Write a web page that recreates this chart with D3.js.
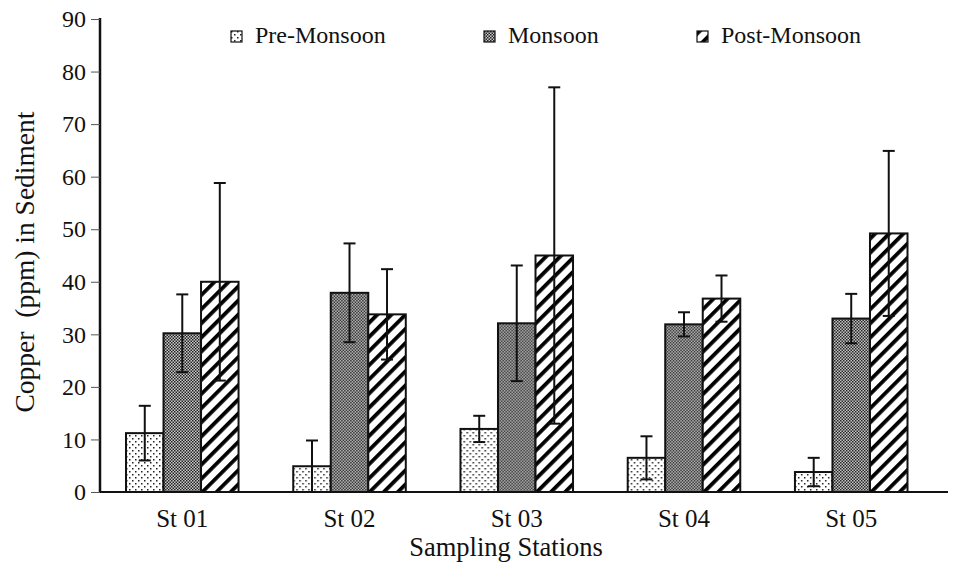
<!DOCTYPE html>
<html>
<head>
<meta charset="utf-8">
<script src="https://cdn.jsdelivr.net/npm/d3@7"></script>
<style>
  html, body { margin: 0; padding: 0; background: #fff; }
  svg { display: block; }
  svg text { font-family: "Liberation Serif", "Times New Roman", "DejaVu Serif", serif; fill: #111; }
</style>
</head>
<body>
<svg id="chart" width="973" height="564"></svg>
<script>
// Copper concentration in sediment by station and season
const stations = ["St 01", "St 02", "St 03", "St 04", "St 05"];
const seasons = ["Pre-Monsoon", "Monsoon", "Post-Monsoon"];
const preMonsoon = [11.2, 4.9, 12.0, 6.5, 3.8];
const monsoon = [30.2, 37.9, 32.1, 31.9, 33.0];
const postMonsoon = [40.0, 33.8, 45.0, 36.8, 49.2];
const preMonsoonErr = [5.2, 4.9, 2.5, 4.1, 2.7];
const monsoonErr = [7.4, 9.4, 11.0, 2.3, 4.7];
const postMonsoonErr = [18.8, 8.6, 32.0, 4.4, 15.7];
const yTicks = [0, 10, 20, 30, 40, 50, 60, 70, 80, 90];

const seriesValues = [preMonsoon, monsoon, postMonsoon];
const seriesErrors = [preMonsoonErr, monsoonErr, postMonsoonErr];
const patternIds = ["pat-dots", "pat-check", "pat-stripe"];
const serif = "Liberation Serif, Times New Roman, serif";

const svg = d3.select("#chart");

// Fill patterns
const defs = svg.append("defs");
const dots = defs.append("pattern").attr("id", "pat-dots")
  .attr("patternUnits", "userSpaceOnUse").attr("width", 6).attr("height", 6);
dots.append("rect").attr("width", 6).attr("height", 6).attr("fill", "#fff");
dots.append("rect").attr("x", 0).attr("y", 0).attr("width", 1.5).attr("height", 1.5).attr("fill", "#222");
dots.append("rect").attr("x", 3).attr("y", 3).attr("width", 1.5).attr("height", 1.5).attr("fill", "#222");

const check = defs.append("pattern").attr("id", "pat-check")
  .attr("patternUnits", "userSpaceOnUse").attr("width", 3).attr("height", 3);
check.append("rect").attr("width", 3).attr("height", 3).attr("fill", "#c8c8c8");
check.append("rect").attr("x", 0).attr("y", 0).attr("width", 1.5).attr("height", 1.5).attr("fill", "#222");
check.append("rect").attr("x", 1.5).attr("y", 1.5).attr("width", 1.5).attr("height", 1.5).attr("fill", "#222");

const stripe = defs.append("pattern").attr("id", "pat-stripe")
  .attr("patternUnits", "userSpaceOnUse").attr("width", 10).attr("height", 10)
  .attr("patternTransform", "rotate(45)");
stripe.append("rect").attr("width", 10).attr("height", 10).attr("fill", "#fff");
stripe.append("rect").attr("x", 0).attr("y", 0).attr("width", 3.8).attr("height", 10).attr("fill", "#000");

// Scales
const y = d3.scaleLinear().domain([0, 90]).range([492, 19]);
const x0 = d3.scaleBand().domain(stations).range([126, 907.5]).paddingInner(0.327).paddingOuter(0);
const x1 = d3.scaleBand().domain(seasons).range([0, x0.bandwidth()]).padding(0);

// Y axis
const yAxis = svg.append("g").attr("transform", "translate(100,0)")
  .call(d3.axisLeft(y).tickValues(yTicks).tickSize(9).tickPadding(5));
yAxis.attr("font-family", serif);
yAxis.select(".domain").attr("stroke", "#111").attr("stroke-width", 2.5).attr("d", "M0,492V18");
yAxis.selectAll(".tick line").attr("stroke", "#555").attr("stroke-width", 1);
yAxis.selectAll(".tick text").style("font-size", "24px").style("font-family", serif).attr("fill", "#111");

// Bars
const groups = svg.append("g").selectAll("g").data(stations).join("g")
  .attr("transform", d => `translate(${x0(d)},0)`);

seasons.forEach((s, si) => {
  groups.append("rect")
    .attr("x", x1(s))
    .attr("y", (d, i) => y(seriesValues[si][i]))
    .attr("width", x1.bandwidth())
    .attr("height", (d, i) => y(0) - y(seriesValues[si][i]))
    .attr("fill", `url(#${patternIds[si]})`)
    .attr("stroke", "#111")
    .attr("stroke-width", 2);
});

// Error bars
const cap = 6;
seasons.forEach((s, si) => {
  const cx = x1(s) + x1.bandwidth() / 2;
  const eb = groups.append("g").attr("stroke", "#111").attr("stroke-width", 2);
  eb.append("line")
    .attr("x1", cx).attr("x2", cx)
    .attr("y1", (d, i) => y(seriesValues[si][i] + seriesErrors[si][i]))
    .attr("y2", (d, i) => y(Math.max(0, seriesValues[si][i] - seriesErrors[si][i])));
  eb.append("line")
    .attr("x1", cx - cap).attr("x2", cx + cap)
    .attr("y1", (d, i) => y(seriesValues[si][i] + seriesErrors[si][i]))
    .attr("y2", (d, i) => y(seriesValues[si][i] + seriesErrors[si][i]));
  eb.append("line")
    .attr("x1", cx - cap).attr("x2", cx + cap)
    .attr("y1", (d, i) => y(Math.max(0, seriesValues[si][i] - seriesErrors[si][i])))
    .attr("y2", (d, i) => y(Math.max(0, seriesValues[si][i] - seriesErrors[si][i])));
});

// X axis baseline
svg.append("line").attr("x1", 100).attr("x2", 948)
  .attr("y1", y(0)).attr("y2", y(0))
  .attr("stroke", "#111").attr("stroke-width", 2);

// Station labels
svg.append("g").selectAll("text").data(stations).join("text")
  .attr("x", d => x0(d) + x0.bandwidth() / 2)
  .attr("y", 527)
  .attr("text-anchor", "middle")
  .style("font-size", "25px")
  .text(d => d);

// Axis titles
svg.append("text")
  .attr("transform", "translate(34,262) rotate(-90)")
  .attr("text-anchor", "middle")
  .style("font-size", "27.5px")
  .style("white-space", "pre")
  .text("Copper  (ppm) in Sediment");

svg.append("text")
  .attr("x", 506).attr("y", 556)
  .attr("text-anchor", "middle")
  .style("font-size", "26.5px")
  .text("Sampling Stations");

// Legend
const legendX = [231, 484, 697];
const legend = svg.append("g").selectAll("g").data(seasons).join("g")
  .attr("transform", (d, i) => `translate(${legendX[i]},31)`);
legend.append("rect")
  .attr("width", 11).attr("height", 11)
  .attr("fill", (d, i) => `url(#${patternIds[i]})`)
  .attr("stroke", "#111").attr("stroke-width", 1.2);
legend.append("text")
  .attr("x", 24).attr("y", 12)
  .style("font-size", "24px")
  .text(d => d);
</script>
</body>
</html>
